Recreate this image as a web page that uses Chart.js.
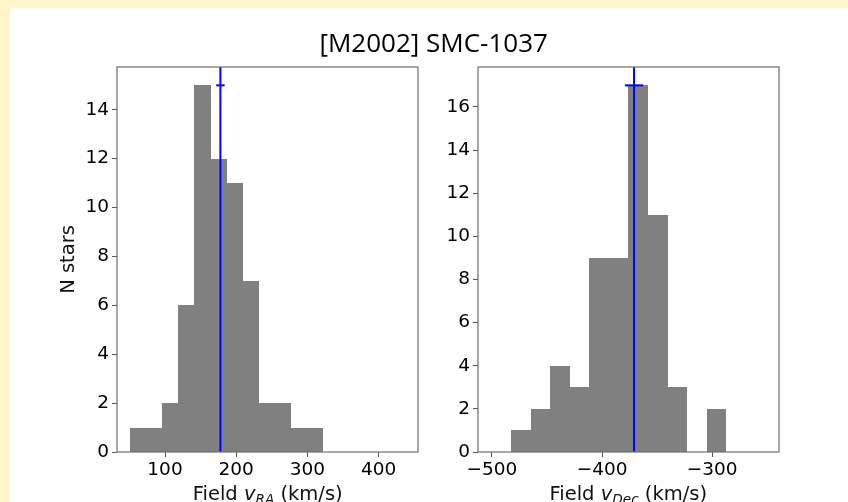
<!DOCTYPE html>
<html><head><meta charset="utf-8">
<script src="https://cdn.jsdelivr.net/npm/chart.js@4.4.1/dist/chart.umd.min.js"></script>
<style>
html,body{margin:0;padding:0;}
body{width:848px;height:502px;background:#fff6cc;position:relative;overflow:hidden;font-family:"DejaVu Sans",sans-serif;}
#panel{position:absolute;left:10px;top:8px;right:0;bottom:0;background:#fff;}
canvas{position:absolute;left:0;top:0;}
#title{position:absolute;left:0;width:867.4px;top:28.6px;text-align:center;font-family:"Open Sans";font-size:26px;line-height:26px;color:#000;white-space:nowrap;}
.xlabel{position:absolute;top:484px;width:400px;text-align:center;font-size:19.5px;line-height:19.5px;color:#111;white-space:nowrap;}
.xlabel i{font-style:oblique;}
.xlabel sub{font-size:70%;font-style:oblique;vertical-align:-0.3em;line-height:0;}
</style></head>
<body>
<div id="panel"></div>
<canvas id="c1" width="848" height="502"></canvas>
<canvas id="c2" width="848" height="502"></canvas>
<div id="title">[M2002] SMC-1037</div>
<div class="xlabel" style="left:67.7px">Field <i>v</i><sub>RA</sub> (km/s)</div>
<div class="xlabel" style="left:428.3px">Field <i>v</i><sub>Dec</sub> (km/s)</div>
<script>
// ---- Left panel: v_RA histogram ----
const raBinCenters = [62.65, 85.15, 107.65, 130.15, 152.65, 175.15, 197.65, 220.15, 242.65, 265.15, 287.65, 310.15];
const raCounts     = [1, 1, 2, 6, 15, 12, 11, 7, 2, 2, 1, 1];
const raMean = 177.8, raMeanErr = 6.0, raMeanLevel = 15;
const raXTicks = [100, 200, 300, 400];
const raYTicks = [0, 2, 4, 6, 8, 10, 12, 14];
const raXRange = [32.6, 455.2];
const raYMax = 15.75;

// ---- Right panel: v_Dec histogram ----
const decBinCenters = [-473.63, -455.88, -438.13, -420.38, -402.63, -384.88, -367.13, -349.38, -331.63, -313.88, -296.13];
const decCounts     = [1, 2, 4, 3, 9, 9, 17, 11, 3, 0, 2];
const decMean = -370.9, decMeanErr = 8.3, decMeanLevel = 17;
const decXTicks = [-500, -400, -300];
const decYTicks = [0, 2, 4, 6, 8, 10, 12, 14, 16];
const decXRange = [-512.7, -239.2];
const decYMax = 17.85;

const W = 848, H = 502, YW = 60, XH = 40;
const tickFont = {family: '"DejaVu Sans"', size: 18.5};
const frame = {
  id: 'frame',
  afterDatasetsDraw(chart) {
    const {ctx, chartArea: a} = chart;
    ctx.save();
    ctx.strokeStyle = '#6e6e6e';
    ctx.lineWidth = 1.2;
    ctx.strokeRect(a.left, a.top, a.right - a.left, a.bottom - a.top);
    ctx.restore();
  }
};
// snap bar edges to whole pixels so adjacent histogram bins meet without seams
const snap = {
  id: 'snap',
  beforeDatasetsDraw(chart) {
    chart.getSortedVisibleDatasetMetas().forEach(m => {
      if (m.type !== 'bar') return;
      m.data.forEach(el => {
        const l = Math.round(el.x - el.width / 2), r = Math.round(el.x + el.width / 2);
        el.x = (l + r) / 2; el.width = r - l;
        el.y = Math.round(el.y); el.base = Math.round(el.base);
      });
    });
  }
};
const fmt = v => String(v).replace('-', '\u2212');

function makeChart(id, area, centers, counts, mean, err, level, xTicks, yTicks, xRange, yMax, yTitle) {
  return new Chart(document.getElementById(id), {
    type: 'bar',
    data: {
      datasets: [
        {type: 'line', data: [{x: mean, y: 0}, {x: mean, y: yMax}], borderColor: '#0000ff', borderWidth: 2, pointRadius: 0, order: 0},
        {type: 'line', data: [{x: mean - err, y: level}, {x: mean + err, y: level}], borderColor: '#0000ff', borderWidth: 2, pointRadius: 0, order: 0},
        {type: 'bar', data: centers.map((c, i) => ({x: c, y: counts[i]})), backgroundColor: '#808080', borderWidth: 0, inflateAmount: 0, barPercentage: 1, categoryPercentage: 1, order: 1}
      ]
    },
    options: {
      responsive: false, animation: false,
      layout: {padding: {left: area.left - YW, right: W - area.right, top: area.top, bottom: H - area.bottom - XH}},
      plugins: {legend: {display: false}, tooltip: {enabled: false}, title: {display: false}},
      scales: {
        x: {
          type: 'linear', min: xRange[0], max: xRange[1], offset: false,
          afterBuildTicks: s => { s.ticks = xTicks.map(v => ({value: v})); },
          afterFit: s => { s.height = XH; },
          grid: {display: true, drawOnChartArea: false, drawTicks: true, tickLength: 5, tickColor: '#555', offset: false},
          border: {display: false},
          ticks: {font: tickFont, color: '#000', padding: 2, autoSkip: false, maxRotation: 0, callback: fmt}
        },
        y: {
          type: 'linear', min: 0, max: yMax,
          afterBuildTicks: s => { s.ticks = yTicks.map(v => ({value: v})); },
          afterFit: s => { s.width = YW; },
          grid: {display: true, drawOnChartArea: false, drawTicks: true, tickLength: 5, tickColor: '#555'},
          border: {display: false},
          ticks: {font: tickFont, color: '#000', padding: 3, autoSkip: false, callback: fmt},
          title: {display: !!yTitle, text: yTitle || '', color: '#111', font: {family: '"DejaVu Sans"', size: 19.5}, padding: {top: 0, bottom: 0}}
        }
      }
    },
    plugins: [snap, frame]
  });
}

makeChart('c1', {left: 117, right: 418, top: 67, bottom: 452}, raBinCenters, raCounts, raMean, raMeanErr, raMeanLevel, raXTicks, raYTicks, raXRange, raYMax, 'N stars');
makeChart('c2', {left: 478, right: 779, top: 67, bottom: 452}, decBinCenters, decCounts, decMean, decMeanErr, decMeanLevel, decXTicks, decYTicks, decXRange, decYMax, '');
</script>
</body></html>
